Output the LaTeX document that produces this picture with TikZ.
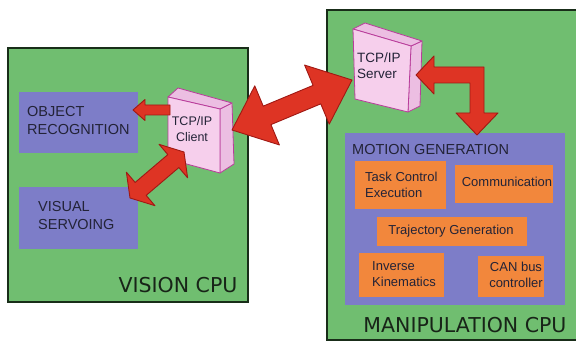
\documentclass[tikz,border=0pt]{standalone}
\usepackage{fontspec}
\setmainfont{Liberation Sans}
\newfontfamily\cpufont{DejaVu Sans}
\usetikzlibrary{calc}
\definecolor{cpugreen}{RGB}{112,190,112}
\definecolor{cpuedge}{RGB}{25,45,25}
\definecolor{cputext}{RGB}{24,36,24}
\definecolor{modblue}{RGB}{125,125,200}
\definecolor{modorange}{RGB}{242,135,60}
\definecolor{netpink}{RGB}{246,207,236}
\definecolor{netpinkdark}{RGB}{236,190,226}
\definecolor{netedge}{RGB}{185,60,155}
\definecolor{arrowred}{RGB}{222,52,36}
\definecolor{arrowedge}{RGB}{160,25,20}
\definecolor{labeltext}{RGB}{35,35,55}
\tikzset{
  cpubox/.style={draw=cpuedge, line width=2.2pt, fill=cpugreen, anchor=north west, inner sep=0, outer sep=0},
  modbox/.style={draw=none, anchor=north west, inner sep=0, outer sep=0},
  netface/.style={fill=netpink, draw=netedge, line width=0.8pt, line join=round},
  netside/.style={fill=netpinkdark, draw=netedge, line width=0.8pt, line join=round},
  fatarrow/.style={fill=arrowred, draw=arrowedge, line width=0.9pt, line join=round},
  lbl/.style={font=\fontsize{14.5}{18}\selectfont, text=labeltext, align=left, inner sep=0},
  sublbl/.style={font=\fontsize{13}{16}\selectfont, text=labeltext, inner sep=0},
  cpulbl/.style={font=\cpufont\fontsize{20.5}{24}\selectfont, text=cputext, inner sep=0}
}
% double fat arrow: A, B, head length, head half width, shaft half width
\newcommand\fatdarrow[5]{%
  \draw[fatarrow] (#1) -- ($(#1)!#3!(#2)!#4!90:(#2)$) -- ($(#1)!#3!(#2)!#5!90:(#2)$)
   -- ($(#2)!#3!(#1)!#5!-90:(#1)$) -- ($(#2)!#3!(#1)!#4!-90:(#1)$) -- (#2)
   -- ($(#2)!#3!(#1)!#4!90:(#1)$) -- ($(#2)!#3!(#1)!#5!90:(#1)$)
   -- ($(#1)!#3!(#2)!#5!-90:(#2)$) -- ($(#1)!#3!(#2)!#4!-90:(#2)$) -- cycle;}
% single fat arrow: tail, tip, head length, head half width, shaft half width
\newcommand\fatsarrow[5]{%
  \draw[fatarrow] (#2) -- ($(#2)!#3!(#1)!#4!90:(#1)$) -- ($(#2)!#3!(#1)!#5!90:(#1)$)
   -- ($(#1)!#5!-90:(#2)$) -- ($(#1)!#5!90:(#2)$)
   -- ($(#2)!#3!(#1)!#5!-90:(#1)$) -- ($(#2)!#3!(#1)!#4!-90:(#1)$) -- cycle;}
\begin{document}
\begin{tikzpicture}[x=1pt,y=-1pt]
\clip (0,0) rectangle (576,342);
\fill[white] (0,0) rectangle (576,342);
% CPU boxes
\node[cpubox, minimum width=240pt, minimum height=254pt] (vision) at (8,48) {};
\node[cpubox, minimum width=270pt, minimum height=330pt] (manip) at (327,10) {};
% vision modules
\node[modbox, fill=modblue, minimum width=119pt, minimum height=61pt] (objrec) at (19,92) {};
\node[modbox, fill=modblue, minimum width=119pt, minimum height=62pt] (visserv) at (19,187) {};
% manipulation modules
\node[modbox, fill=modblue, minimum width=220pt, minimum height=172pt] (motion) at (345,133) {};
\node[modbox, fill=modorange, minimum width=91pt, minimum height=48pt] (task) at (355,161) {};
\node[modbox, fill=modorange, minimum width=98pt, minimum height=38pt] (comm) at (455,165) {};
\node[modbox, fill=modorange, minimum width=150pt, minimum height=29pt] (traj) at (377,217) {};
\node[modbox, fill=modorange, minimum width=85pt, minimum height=44pt] (ik) at (359,253) {};
\node[modbox, fill=modorange, minimum width=66pt, minimum height=41pt] (can) at (478,256) {};
% TCP/IP client box
\draw[netside] (220,109) -- (232,103) -- (234,164) -- (220,173) -- cycle;
\draw[netside] (168,97) -- (178,88) -- (232,103) -- (220,109) -- cycle;
\draw[netface] (168,97) -- (220,109) -- (220,173) -- (168,159) -- cycle;
% TCP/IP server box
\draw[netside] (411,46) -- (422,41) -- (420,106) -- (408,112) -- cycle;
\draw[netside] (353,29) -- (365,23) -- (422,41) -- (411,46) -- cycle;
\draw[netface] (353,29) -- (411,46) -- (408,112) -- (355,99) -- cycle;
% labels
\node[lbl, anchor=west] (orlbl) at (27,121) {OBJECT\\RECOGNITION};
\node[lbl, anchor=west] (vslbl) at (38,216) {VISUAL\\SERVOING};
\node[sublbl, align=center, font=\fontsize{12.5}{16}\selectfont] (client) at (192,129) {TCP/IP\\Client};
\node[sublbl, align=left, anchor=west, font=\fontsize{13.5}{16}\selectfont] (server) at (357,66) {TCP/IP\\Server};
\node[lbl, anchor=west] (mglbl) at (352,150) {MOTION GENERATION};
\node[sublbl, align=left, anchor=west] (tasklbl) at (365,185) {Task Control\\Execution};
\node[sublbl] (commlbl) at (507,182) {Communication};
\node[sublbl] (trajlbl) at (451,231) {Trajectory Generation};
\node[sublbl, align=left, anchor=west] (iklbl) at (372,274) {Inverse\\Kinematics};
\node[sublbl, align=center] (canlbl) at (516,275) {CAN bus\\controller};
\node[cpulbl] (visionlbl) at (178,285) {VISION CPU};
\node[cpulbl] (maniplbl) at (465,325) {MANIPULATION CPU};
% connector end points
\coordinate (cliR) at (232,130);
\coordinate (srvL) at (352,80);
\coordinate (cliB) at (184,152);
\coordinate (vsT) at (130,198);
\coordinate (cliL) at (170,110);
\coordinate (orR) at (133,110);
\coordinate (srvR) at (416,75);
\coordinate (mgT) at (477,135);
% arrows
\fatdarrow{cliR}{srvL}{38pt}{32pt}{10pt}
\fatdarrow{vsT}{cliB}{14pt}{22pt}{8.5pt}
\fatsarrow{cliL}{orR}{12pt}{10.5pt}{5pt}
\draw[fatarrow] (srvR) -- ++(18,-19) -- ++(0,11) -- ($(mgT|-srvR)+(7,-8)$)
  -- ($(mgT)+(7,-22)$) -- ++(14,0) -- (mgT) -- ++(-21,-22) -- ++(14,0)
  -- ($(mgT|-srvR)+(-7,8)$) -- ($(srvR)+(18,8)$) -- ++(0,11) -- cycle;
\end{tikzpicture}
\end{document}
